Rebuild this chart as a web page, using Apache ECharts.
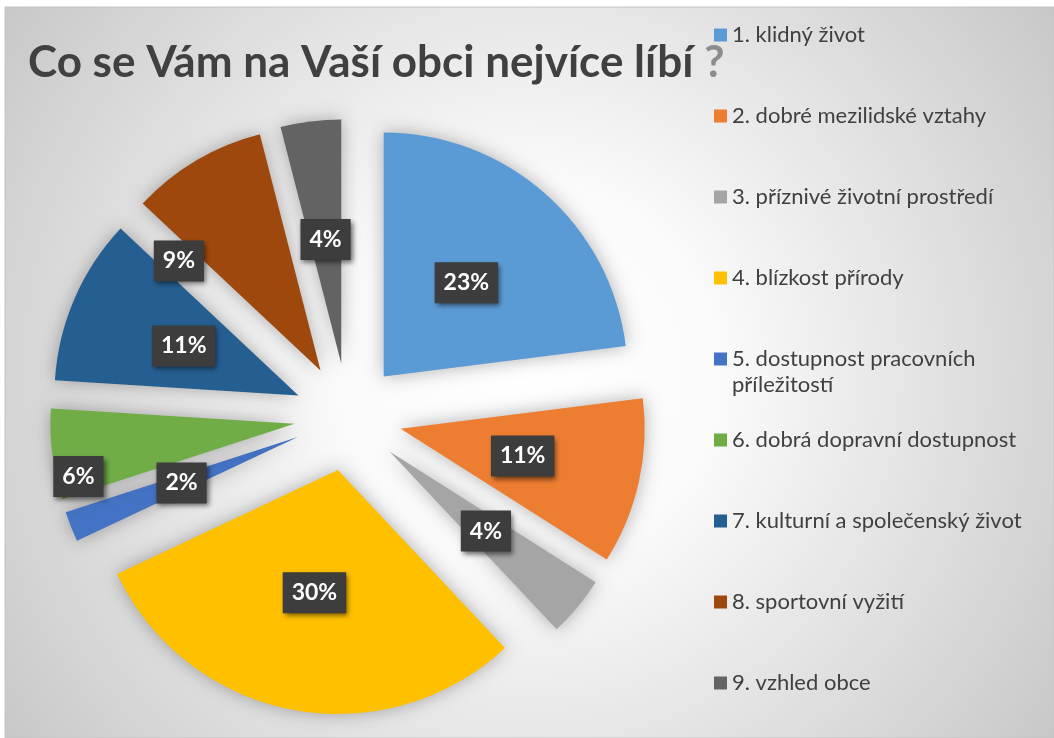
<!DOCTYPE html>
<html>
<head>
<meta charset="utf-8">
<script src="https://cdn.jsdelivr.net/npm/echarts@6/dist/echarts.min.js"></script>
<style>
  html, body { margin: 0; padding: 0; background: #ffffff; }
  #chart { width: 1054px; height: 738px; }
</style>
</head>
<body>
<div id="chart"></div>
<script>
// ---- data ----
const titleText = 'Co se Vám na Vaší obci nejvíce líbí';
const categories = [
  '1. klidný život',
  '2. dobré mezilidské vztahy',
  '3. příznivé životní prostředí',
  '4. blízkost přírody',
  '5. dostupnost pracovních příležitostí',
  '6. dobrá dopravní dostupnost',
  '7. kulturní a společenský život',
  '8. sportovní vyžití',
  '9. vzhled obce'
];
const values = [23, 11, 4, 30, 2, 6, 11, 9, 4];

// ---- styles ----
const colors = ['#5B9BD5', '#ED7D31', '#A5A5A5', '#FFC000', '#4472C4', '#70AD47', '#255E91', '#9E480E', '#636363'];
const labelNudge = { 5: [-92, 37], 7: [-78, -2] };
const wrapAfter = 'pracovních ';

const chart = echarts.init(document.getElementById('chart'), null, { renderer: 'canvas' });

const option = {
  animation: false,
  color: colors,
  graphic: [{
    type: 'rect',
    z: -10,
    silent: true,
    shape: { x: 5, y: 7, width: 1049, height: 731 },
    style: {
      fill: {
        type: 'radial', x: 0.5, y: 0.5, r: 0.87,
        colorStops: [
          { offset: 0, color: '#ffffff' },
          { offset: 0.3, color: '#fafafa' },
          { offset: 1, color: '#c8c8c8' }
        ]
      },
      stroke: '#c4c4c4',
      lineWidth: 1
    }
  }],
  title: {
    text: '{a|' + titleText + ' }{b|?}',
    left: 28,
    top: 41,
    padding: 0,
    textStyle: {
      rich: {
        a: { fontFamily: 'Lato', fontWeight: 'bold', fontSize: 44, color: '#404040' },
        b: { fontFamily: 'Lato', fontWeight: 'bold', fontSize: 44, color: '#8c8c8c' }
      }
    }
  },
  legend: {
    orient: 'vertical',
    left: 714,
    top: -4,
    padding: 0,
    itemGap: 3,
    itemWidth: 13,
    itemHeight: 13,
    icon: 'rect',
    selectedMode: false,
    // each entry is a three-line block centred on its first text line
    formatter: function (name) {
      if (name.indexOf(wrapAfter) >= 0) {
        return ' \n' + name.replace(wrapAfter, wrapAfter.trim() + '\n');
      }
      return ' \n' + name + '\n ';
    },
    textStyle: {
      fontFamily: 'Lato',
      fontSize: 22,
      color: '#404040',
      lineHeight: 26
    },
    data: categories
  },
  series: [{
    type: 'pie',
    center: [348, 417],
    radius: 244,
    startAngle: 90,
    clockwise: true,
    selectedMode: 'multiple',
    selectedOffset: 54,
    avoidLabelOverlap: false,
    itemStyle: {
      shadowBlur: 18,
      shadowColor: 'rgba(0,0,0,0.3)'
    },
    select: { itemStyle: { borderWidth: 0 } },
    emphasis: { scale: false },
    labelLine: { show: false },
    label: {
      show: true,
      position: 'inside',
      formatter: '{c}%',
      fontFamily: 'Lato',
      fontWeight: 'bold',
      fontSize: 23,
      color: '#ffffff',
      backgroundColor: '#3d3d3d',
      padding: [9, 9, 9, 9],
      shadowColor: 'rgba(0,0,0,0.55)',
      shadowBlur: 5,
      shadowOffsetX: 2,
      shadowOffsetY: 3
    },
    labelLayout: function (params) {
      const n = labelNudge[params.dataIndex];
      return n ? { dx: n[0], dy: n[1] } : {};
    },
    data: categories.map((name, i) => ({ name: name, value: values[i], selected: true }))
  }]
};

chart.setOption(option);
</script>
</body>
</html>
